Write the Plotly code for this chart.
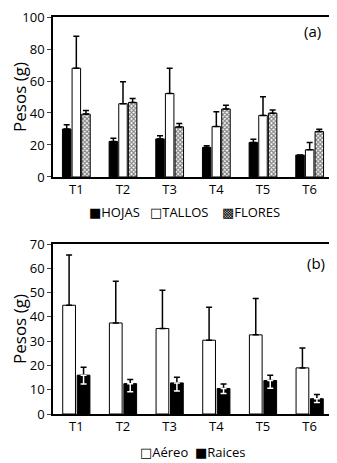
import plotly.graph_objects as go
from plotly.subplots import make_subplots

categories = ["T1", "T2", "T3", "T4", "T5", "T6"]

# Panel (a)
hojas = [30.0, 22.2, 23.8, 18.5, 21.6, 13.7]
hojas_err = [2.7, 2.0, 2.0, 1.1, 2.0, 0.0]
tallos = [68.0, 45.8, 52.2, 31.5, 38.5, 17.0]
tallos_err = [20.0, 13.7, 15.8, 9.2, 11.7, 4.6]
flores = [39.3, 46.6, 31.3, 42.5, 39.9, 28.4]
flores_err = [2.2, 2.4, 2.2, 2.3, 2.0, 1.4]

# Panel (b)
aereo = [44.8, 37.5, 35.2, 30.4, 32.6, 19.0]
aereo_err = [20.7, 17.2, 15.8, 13.6, 15.0, 8.2]
raices = [16.0, 12.5, 12.8, 10.5, 13.8, 6.3]
raices_err_up = [3.3, 1.7, 2.3, 1.9, 2.2, 1.7]
raices_err_down = [3.6, 3.3, 3.3, 2.1, 3.2, 1.6]

legend_a = ["HOJAS", "TALLOS", "FLORES"]
legend_b = ["Aéreo", "Raices"]

FONT = "Open Sans, DejaVu Sans"
NB = "\u00a0"

fig = make_subplots(rows=2, cols=1, vertical_spacing=0.0)

def eb(up, down=None, color="black"):
    return dict(type="data", symmetric=False, array=up,
                arrayminus=down if down is not None else [0] * len(up),
                color=color, thickness=1.5, width=3)

fig.add_trace(go.Bar(x=categories, y=hojas, name=legend_a[0], marker=dict(color="black", line=dict(color="black", width=1)),
                     error_y=eb(hojas_err)), row=1, col=1)
fig.add_trace(go.Bar(x=categories, y=tallos, name=legend_a[1], marker=dict(color="white", line=dict(color="black", width=1)),
                     error_y=eb(tallos_err)), row=1, col=1)
fig.add_trace(go.Bar(x=categories, y=flores, name=legend_a[2],
                     marker=dict(color="white", line=dict(color="black", width=1),
                                 pattern=dict(shape="x", fgcolor="black", bgcolor="white", size=3, solidity=0.6)),
                     error_y=eb(flores_err)), row=1, col=1)

fig.add_trace(go.Bar(x=categories, y=aereo, name=legend_b[0], marker=dict(color="white", line=dict(color="black", width=1)),
                     error_y=eb(aereo_err), offsetgroup="a"), row=2, col=1)
fig.add_trace(go.Bar(x=categories, y=raices, name=legend_b[1], marker=dict(color="black", line=dict(color="black", width=1)),
                     error_y=eb(raices_err_up), offsetgroup="r"), row=2, col=1)
fig.add_trace(go.Bar(x=categories, y=raices, name="Raices (error inferior)", showlegend=False,
                     marker=dict(color="rgba(0,0,0,0)", line=dict(width=0)),
                     error_y=dict(type="data", symmetric=False, array=[0] * 6, arrayminus=raices_err_down,
                                  color="white", thickness=1.5, width=3),
                     offsetgroup="r", hoverinfo="skip"), row=2, col=1)

fig.update_layout(
    width=329, height=455,
    margin=dict(l=45, r=4, t=9, b=49),
    plot_bgcolor="white", paper_bgcolor="white",
    font=dict(family=FONT, color="black", size=13),
    barmode="group",
    bargap=0.38, bargroupgap=0.12,
    showlegend=False,
)

axis_common = dict(showline=True, linecolor="black", linewidth=1.5, mirror=True, showgrid=False,
                   zeroline=False, automargin=False, ticklabeloverflow="allow")
fig.update_xaxes(**axis_common, ticks="", tickfont=dict(size=13))
fig.update_yaxes(**axis_common, ticks="outside", ticklen=4, tickwidth=1, tickfont=dict(size=13))

fig.update_yaxes(range=[0, 100], dtick=20, domain=[0.597, 1.0],
                 title=dict(text="Pesos (g)", font=dict(size=17), standoff=4), row=1, col=1)
fig.update_yaxes(range=[0, 70], dtick=10, domain=[0.0, 0.428],
                 title=dict(text="Pesos (g)", font=dict(size=17), standoff=4), row=2, col=1)
fig.update_xaxes(domain=[0, 1], row=1, col=1)
fig.update_xaxes(domain=[0, 1], row=2, col=1)

fig.add_annotation(text="(a)", x=0.925, y=0.965, xref="paper", yref="paper", showarrow=False,
                   font=dict(size=15), xanchor="center", yanchor="middle")
fig.add_annotation(text="(b)", x=0.94, y=0.380, xref="paper", yref="paper", showarrow=False,
                   font=dict(size=15), xanchor="center", yanchor="middle")

fig.add_annotation(text="■" + legend_a[0] + NB * 3 + "□" + legend_a[1] + NB * 4 + "▩" + legend_a[2],
                   x=0.471, y=0.509, xref="paper", yref="paper", showarrow=False,
                   font=dict(size=13), xanchor="center", yanchor="middle")
fig.add_annotation(text="□" + legend_b[0] + NB * 2 + "■" + legend_b[1],
                   x=0.5, y=-0.096, xref="paper", yref="paper", showarrow=False,
                   font=dict(size=13), xanchor="center", yanchor="middle")

fig.write_html("out.html")
